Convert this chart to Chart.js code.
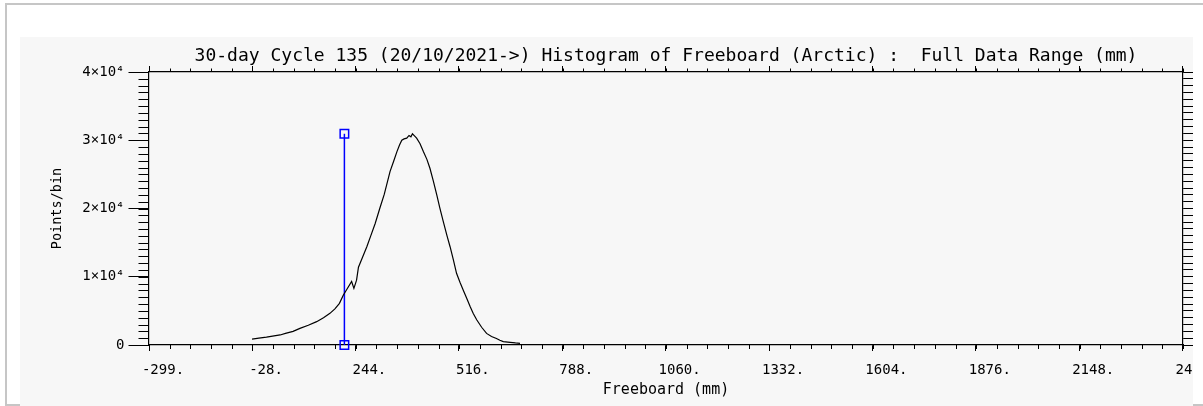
<!DOCTYPE html>
<html>
<head>
<meta charset="utf-8">
<script src="https://cdn.jsdelivr.net/npm/chart.js@4.4.1/dist/chart.umd.min.js"></script>
<style>
  html, body { margin: 0; padding: 0; background: #ffffff; width: 1203px; height: 406px; overflow: hidden; }
  #frame { position: absolute; left: 5px; top: 3px; width: 1260px; height: 399px; border: 2px solid #c6c6c6; }
  #panel { position: absolute; left: 20px; top: 37px; width: 1173px; height: 369px; background: #f7f7f7; overflow: hidden; }
  canvas { display: block; }
</style>
</head>
<body>
<div id="frame"></div>
<div id="panel"><canvas id="c" width="1173" height="369"></canvas></div>
<script>
// ---- data ----
const histX = [-28, -10, 10, 30, 46, 60, 80, 98, 120, 142, 160, 177, 190, 202, 212, 222, 234, 240, 247, 252,
  263, 274, 285, 296, 308, 320, 335, 345, 353, 360, 366, 372, 379, 385, 390, 394, 400, 405, 414, 423,
  432, 440, 449, 458, 466, 475, 485, 493, 502, 510, 519, 528, 537, 546, 554, 563, 576, 589, 602, 615,
  624, 633, 651, 665, 677];
const histY = [850, 1000, 1150, 1330, 1470, 1700, 2000, 2440, 2900, 3420, 4000, 4640, 5300, 6100, 7300, 8200, 9300, 8300, 9500, 11400,
  12900, 14400, 16100, 17800, 20000, 22100, 25400, 27000, 28300, 29300, 30000, 30200, 30300, 30700, 30500, 30950, 30600, 30300, 29500, 28300,
  27200, 25900, 24000, 22000, 20100, 18100, 16000, 14400, 12400, 10500, 9200, 8000, 6800, 5600, 4600, 3700, 2600, 1700, 1250, 950,
  700, 500, 380, 300, 250];
const markerX = [215, 215];
const markerY = [0, 30950];

const xTickValues = [-299, -28, 244, 516, 788, 1060, 1332, 1604, 1876, 2148, 2420];
const xTickLabels = ['-299.', '-28.', '244.', '516.', '788.', '1060.', '1332.', '1604.', '1876.', '2148.', '2420.'];
const yTickValues = [0, 10000, 20000, 30000, 40000];
const yTickLabels = ['0', '1×10⁴', '2×10⁴', '3×10⁴', '4×10⁴'];
const xMin = -299, xMax = 2421, yMin = 0, yMax = 40000;
const xMinorPerMajor = 5, yMinorStep = 1000;

const titleText = '30-day Cycle 135 (20/10/2021->) Histogram of Freeboard (Arctic) :  Full Data Range (mm)';
const xTitle = 'Freeboard (mm)';
const yTitle = 'Points/bin';

// ---- helpers ----
const FONT = 'DejaVu Sans Mono';
function minorXValues() {
  const out = [];
  const step = (xMax - xMin) / ((xTickValues.length - 1) * xMinorPerMajor);
  for (let v = xMin; v <= xMax + 1e-6; v += step) out.push(v);
  return out;
}
function minorYValues() {
  const out = [];
  for (let v = yMin; v <= yMax; v += yMinorStep) out.push(v);
  return out;
}
function noPad(scale) { scale.paddingLeft = 0; scale.paddingRight = 0; scale.paddingTop = 0; scale.paddingBottom = 0; }

const minorTicks = {
  id: 'minorTicks',
  afterDraw(chart) {
    const ctx = chart.ctx;
    const x = chart.scales.x, y = chart.scales.y;
    const a = chart.chartArea;
    ctx.save();
    ctx.strokeStyle = '#000';
    ctx.lineWidth = 1;
    ctx.beginPath();
    minorXValues().forEach(v => {
      const px = Math.round(x.getPixelForValue(v)) + 0.5;
      ctx.moveTo(px, a.bottom); ctx.lineTo(px, a.bottom + 4);
      ctx.moveTo(px, a.top); ctx.lineTo(px, a.top - 3.5);
    });
    minorYValues().forEach(v => {
      const py = Math.round(y.getPixelForValue(v)) + 0.5;
      ctx.moveTo(a.left, py); ctx.lineTo(a.left - 10.5, py);
    });
    ctx.stroke();
    ctx.restore();
  }
};

const axisCommon = {
  border: { display: true, color: '#000', width: 1.2 },
};

new Chart(document.getElementById('c'), {
  type: 'line',
  data: {
    datasets: [
      {
        data: histX.map((v, i) => ({ x: v, y: histY[i] })),
        borderColor: '#000000',
        borderWidth: 1.2,
        pointRadius: 0,
        tension: 0,
        fill: false
      },
      {
        data: markerX.map((v, i) => ({ x: v, y: markerY[i] })),
        borderColor: '#0000ff',
        borderWidth: 1.5,
        pointStyle: 'rect',
        pointRadius: 6,
        pointBorderWidth: 1.5,
        pointBorderColor: '#0000ff',
        pointBackgroundColor: 'rgba(0,0,0,0)',
        clip: false,
        fill: false
      }
    ]
  },
  options: {
    responsive: false,
    animation: false,
    events: [],
    layout: { padding: 0 },
    plugins: {
      legend: { display: false },
      tooltip: { enabled: false },
      title: {
        display: true,
        text: titleText,
        fullSize: false,
        color: '#000',
        font: { family: FONT, size: 18, weight: 'normal', lineHeight: 1 },
        padding: { top: 10, bottom: 0 }
      }
    },
    scales: {
      x: {
        ...axisCommon,
        type: 'linear', position: 'bottom', min: xMin, max: xMax,
        afterBuildTicks: s => { s.ticks = xTickValues.map(v => ({ value: v })); },
        afterFit: s => { s.height = 61; noPad(s); },
        grid: { drawOnChartArea: false, drawTicks: true, tickLength: 6, tickColor: '#000', tickWidth: 1 },
        ticks: {
          autoSkip: false, maxRotation: 0, minRotation: 0, labelOffset: 14, padding: 11,
          color: '#000', font: { family: FONT, size: 14 },
          callback: (v, i) => xTickLabels[i]
        },
        title: {
          display: true, text: xTitle, color: '#000',
          font: { family: FONT, size: 15, lineHeight: 1 }, padding: { top: 0, bottom: 8 }
        }
      },
      x2: {
        ...axisCommon,
        type: 'linear', position: 'top', min: xMin, max: xMax, display: true,
        afterBuildTicks: s => { s.ticks = xTickValues.map(v => ({ value: v })); },
        afterFit: s => { s.height = 7; noPad(s); },
        grid: { drawOnChartArea: false, drawTicks: true, tickLength: 6, tickColor: '#000', tickWidth: 1 },
        ticks: { display: false }
      },
      y: {
        ...axisCommon,
        type: 'linear', position: 'left', min: yMin, max: yMax,
        afterBuildTicks: s => { s.ticks = yTickValues.map(v => ({ value: v })); },
        afterFit: s => { s.width = 129; noPad(s); },
        grid: { drawOnChartArea: false, drawTicks: true, tickLength: 20.5, tickColor: '#000', tickWidth: 1 },
        ticks: {
          padding: 4, color: '#000', font: { family: FONT, size: 14 },
          callback: (v, i) => yTickLabels[i]
        },
        title: {
          display: true, text: yTitle, color: '#000',
          font: { family: FONT, size: 13.5, lineHeight: 1 }, padding: { top: 31, bottom: 0 }
        }
      },
      y2: {
        ...axisCommon,
        type: 'linear', position: 'right', min: yMin, max: yMax, display: true,
        afterBuildTicks: s => { s.ticks = minorYValues().map(v => ({ value: v })); },
        afterFit: s => { s.width = 10; noPad(s); },
        grid: { drawOnChartArea: false, drawTicks: true, tickLength: 10, tickColor: '#000', tickWidth: 1 },
        ticks: { display: false }
      }
    }
  },
  plugins: [minorTicks]
});
</script>
</body>
</html>
